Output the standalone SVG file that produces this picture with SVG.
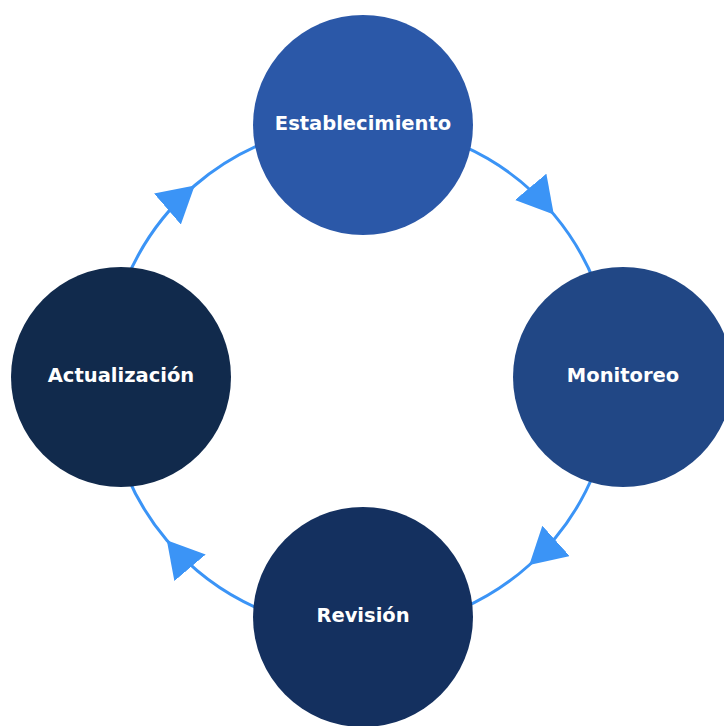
<svg xmlns="http://www.w3.org/2000/svg" width="724" height="726" viewBox="0 0 724 726">
  <style>
    .ring { fill: none; stroke: #3B94F6; stroke-width: 3; marker-mid: url(#arrow); }
    .label { font-family: "DejaVu Sans", "Liberation Sans", Arial, sans-serif; font-weight: bold; font-size: 19.5px; fill: #FFFFFF; text-anchor: middle; }
  </style>
  <defs>
    <marker id="arrow" markerUnits="userSpaceOnUse" viewBox="0 0 36 41" markerWidth="36" markerHeight="41" refX="36" refY="20.5" orient="auto">
      <path d="M0,0 L36,20.5 L0,41 z" fill="#3B94F6"/>
    </marker>
  </defs>
  <rect width="724" height="726" fill="#FFFFFF"/>
  <g id="connectors">
    <path class="ring" d="M462.9,145.9 A253,253 0 0 1 553.8,214.4 A253,253 0 0 1 594.6,282.2"/>
    <path class="ring" d="M594.6,471.8 A253,253 0 0 1 529.3,565.0 A253,253 0 0 1 462.9,608.1"/>
    <path class="ring" d="M261.2,609.9 A253,253 0 0 1 166.8,540.3 A253,253 0 0 1 127.1,475.8"/>
    <path class="ring" d="M127.1,278.2 A253,253 0 0 1 194.7,185.5 A253,253 0 0 1 261.2,144.1"/>
  </g>
  <g id="establecimiento">
    <circle cx="363" cy="125" r="110" fill="#2B58A8"/>
    <text class="label" x="363" y="130">Establecimiento</text>
  </g>
  <g id="monitoreo">
    <circle cx="623" cy="377" r="110" fill="#214785"/>
    <text class="label" x="623" y="382">Monitoreo</text>
  </g>
  <g id="revision">
    <circle cx="363" cy="617" r="110" fill="#14305F"/>
    <text class="label" x="363" y="622">Revisión</text>
  </g>
  <g id="actualizacion">
    <circle cx="121" cy="377" r="110" fill="#112A4C"/>
    <text class="label" x="121" y="382">Actualización</text>
  </g>
</svg>
